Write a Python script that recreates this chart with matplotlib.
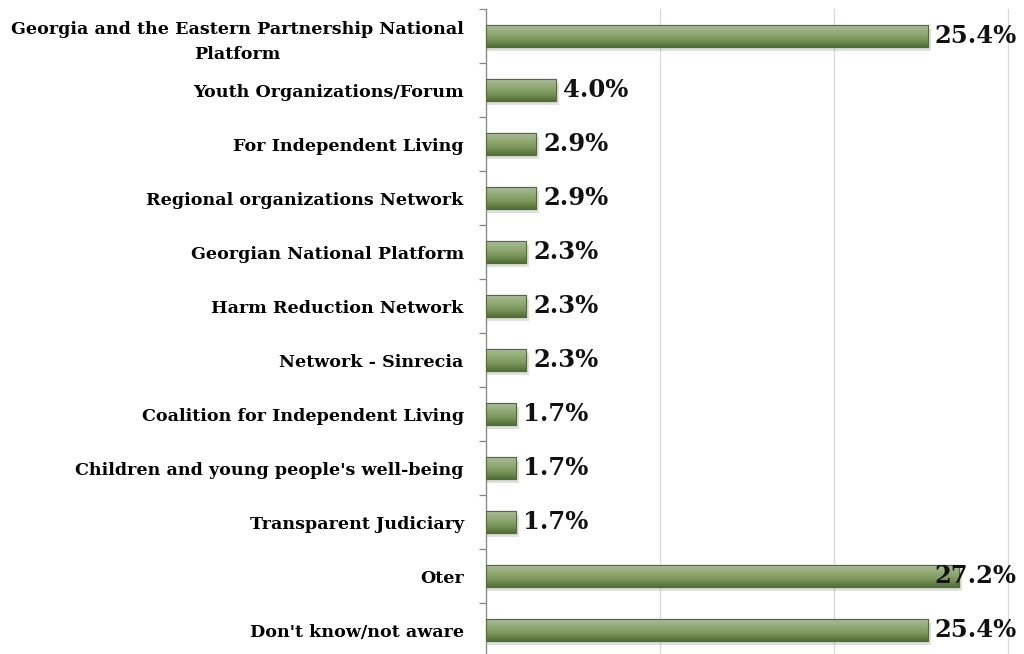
import matplotlib

matplotlib.use("Agg")
import matplotlib.pyplot as plt
import numpy as np
from matplotlib.colors import LinearSegmentedColormap

categories = [
    "Georgia and the Eastern Partnership National\nPlatform",
    "Youth Organizations/Forum",
    "For Independent Living",
    "Regional organizations Network",
    "Georgian National Platform",
    "Harm Reduction Network",
    "Network - Sinrecia",
    "Coalition for Independent Living",
    "Children and young people's well-being",
    "Transparent Judiciary",
    "Oter",
    "Don't know/not aware",
]
values = [25.4, 4.0, 2.9, 2.9, 2.3, 2.3, 2.3, 1.7, 1.7, 1.7, 27.2, 25.4]

plt.rcParams["font.family"] = ["DejaVu Serif"]

fig = plt.figure(figsize=(10.24, 6.54), dpi=100)
ax = fig.add_axes([0.4746, -0.005, 0.5098, 0.991])

n = len(categories)
y = np.arange(n)
bar_h = 0.4

# Excel-like bar gradient (light top -> dark bottom)
cmap = LinearSegmentedColormap.from_list(
    "bar", ["#a9bd95", "#93ab77", "#7a965a", "#526d38"]
)
grad = np.linspace(0, 1, 64).reshape(-1, 1)

for yi, v in zip(y, values):
    # soft drop shadow
    ax.barh(yi + 0.07, v + 0.12, height=bar_h, left=0.05,
            color="#000000", alpha=0.12, zorder=2, linewidth=0)
    bars = ax.barh(yi, v, height=bar_h, color="#77933c",
                   edgecolor="#4a5f30", linewidth=0.8, zorder=3)
    rect = bars[0]
    im = ax.imshow(grad, aspect="auto", cmap=cmap, zorder=3.5,
                   extent=(0, v, yi + bar_h / 2, yi - bar_h / 2),
                   interpolation="bicubic")
    im.set_clip_path(rect)
    ax.add_patch(plt.Rectangle((0, yi - bar_h / 2), v, bar_h, fill=False,
                               edgecolor="#55693a", linewidth=0.8, zorder=4))

    # Excel pulls labels that would overflow back inside the plot area
    xt = min(v, 25.4)
    ax.annotate(f"{v:.1f}%", (xt, yi), xytext=(5, 0), textcoords="offset points",
                ha="left", va="center", fontsize=17.5, fontweight="bold",
                color="#111111", zorder=5, annotation_clip=False)

ax.set_xlim(0, 30)
ax.set_ylim(n - 0.5, -0.5)
ax.set_xticks([0, 10, 20, 30])
ax.set_xticklabels([])
ax.tick_params(axis="x", length=0)
ax.grid(axis="x", color="#d9d9d9", linewidth=0.9, zorder=0)
for gl in ax.get_xgridlines():
    gl.set_clip_on(False)
ax.set_axisbelow(True)

ax.set_yticks(y)
ax.set_yticklabels(categories, fontsize=12.6, fontweight="bold",
                   multialignment="center", linespacing=1.6)
ax.set_yticks(np.arange(n + 1) - 0.5, minor=True)
ax.tick_params(axis="y", which="major", length=0, pad=16)
ax.tick_params(axis="y", which="minor", length=5, color="#868686", width=0.9)

for s in ["top", "right", "bottom"]:
    ax.spines[s].set_visible(False)
ax.spines["left"].set_color("#868686")
ax.spines["left"].set_linewidth(0.9)

fig.savefig("out.png", dpi=100)
